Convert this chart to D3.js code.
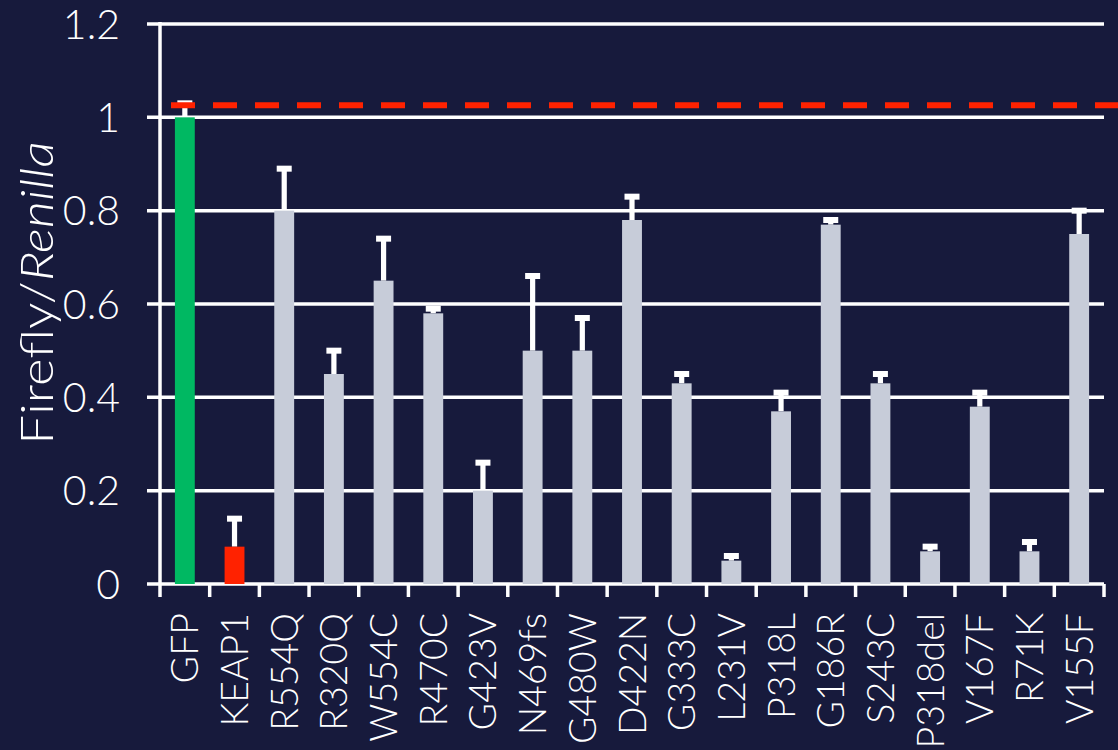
<!DOCTYPE html>
<html>
<head>
<meta charset="utf-8">
<script src="https://cdn.jsdelivr.net/npm/d3@7"></script>
<style>
  html, body { margin: 0; padding: 0; background: #171a3c; }
  svg { display: block; }
  text { font-family: "Lato", "Open Sans", sans-serif; font-weight: 300; fill: #ffffff; }
</style>
</head>
<body>
<svg id="chart" width="1118" height="750"></svg>
<script>
const categories = ["GFP","KEAP1","R554Q","R320Q","W554C","R470C","G423V","N469fs","G480W","D422N","G333C","L231V","P318L","G186R","S243C","P318del","V167F","R71K","V155F"];
const values     = [1.00, 0.08, 0.80, 0.45, 0.65, 0.58, 0.20, 0.50, 0.50, 0.78, 0.43, 0.05, 0.37, 0.77, 0.43, 0.07, 0.38, 0.07, 0.75];
const errorTops  = [1.03, 0.14, 0.89, 0.50, 0.74, 0.59, 0.26, 0.66, 0.57, 0.83, 0.45, 0.06, 0.41, 0.78, 0.45, 0.08, 0.41, 0.09, 0.80];
const barColors  = ["#00b862", "#ff2200"]; // GFP, KEAP1; rest gray
const yTicks     = [0, 0.2, 0.4, 0.6, 0.8, 1, 1.2];
const yTickLabels = ["0", "0.2", "0.4", "0.6", "0.8", "1", "1.2"];
const referenceLine = 1.026;

const svg = d3.select("#chart");
const W = 1118, H = 750;
const mLeft = 160, mRight = 1104, mTop = 24, mBottom = 584;

const x = d3.scaleBand().domain(categories).range([mLeft, mRight]).paddingInner(0.6).paddingOuter(0.3);
const y = d3.scaleLinear().domain([0, 1.2]).range([mBottom, mTop]);

svg.append("rect").attr("width", W).attr("height", H).attr("fill", "#171a3c");

// gridlines
svg.append("g").selectAll("line").data(yTicks).join("line")
  .attr("x1", 147).attr("x2", mRight)
  .attr("y1", d => y(d)).attr("y2", d => y(d))
  .attr("stroke", "#ffffff").attr("stroke-width", 3.5);

// y axis line
svg.append("line").attr("x1", mLeft).attr("x2", mLeft).attr("y1", mTop - 2).attr("y2", 597)
  .attr("stroke", "#ffffff").attr("stroke-width", 3.5);

// x ticks at band boundaries
const bounds = d3.range(categories.length + 1).map(i => mLeft + i * (mRight - mLeft) / categories.length);
svg.append("g").selectAll("line").data(bounds.slice(1)).join("line")
  .attr("x1", d => d).attr("x2", d => d).attr("y1", mBottom).attr("y2", 597)
  .attr("stroke", "#ffffff").attr("stroke-width", 3.5);

// y tick labels
svg.append("g").selectAll("text").data(yTicks).join("text")
  .attr("x", 120).attr("y", d => y(d))
  .attr("dy", "0.36em")
  .attr("text-anchor", "end")
  .attr("font-size", 41)
  .text((d, i) => yTickLabels[i]);

// error bars
const eg = svg.append("g");
categories.forEach((c, i) => {
  const cx = x(c) + x.bandwidth() / 2;
  eg.append("rect").attr("x", cx - 2.6).attr("width", 5.2)
    .attr("y", y(errorTops[i])).attr("height", y(values[i]) - y(errorTops[i]))
    .attr("fill", "#ffffff");
  eg.append("rect").attr("x", cx - 7.5).attr("width", 15)
    .attr("y", y(errorTops[i]) - 3).attr("height", 6)
    .attr("fill", "#ffffff");
});

// bars
svg.append("g").selectAll("rect").data(categories).join("rect")
  .attr("x", d => x(d))
  .attr("width", x.bandwidth())
  .attr("y", (d, i) => y(values[i]))
  .attr("height", (d, i) => y(0) - y(values[i]))
  .attr("fill", (d, i) => i < barColors.length ? barColors[i] : "#c7ccd9");

// reference dashed line
svg.append("line")
  .attr("x1", 171).attr("x2", W)
  .attr("y1", y(referenceLine)).attr("y2", y(referenceLine))
  .attr("stroke", "#ff2200").attr("stroke-width", 6)
  .attr("stroke-dasharray", "24,18");

// x labels
svg.append("g").selectAll("text").data(categories).join("text")
  .attr("transform", d => `translate(${x(d) + x.bandwidth() / 2},613) rotate(-90)`)
  .attr("text-anchor", "end")
  .attr("dy", "0.36em")
  .attr("font-size", 37.5)
  .text(d => d);

// y label
const yl = svg.append("text")
  .attr("transform", `translate(53,293) rotate(-90) scale(1.15,1)`)
  .attr("text-anchor", "middle")
  .attr("font-size", 46);
yl.append("tspan").text("Firefly/");
yl.append("tspan").attr("font-style", "italic").text("Renilla");
</script>
</body>
</html>
